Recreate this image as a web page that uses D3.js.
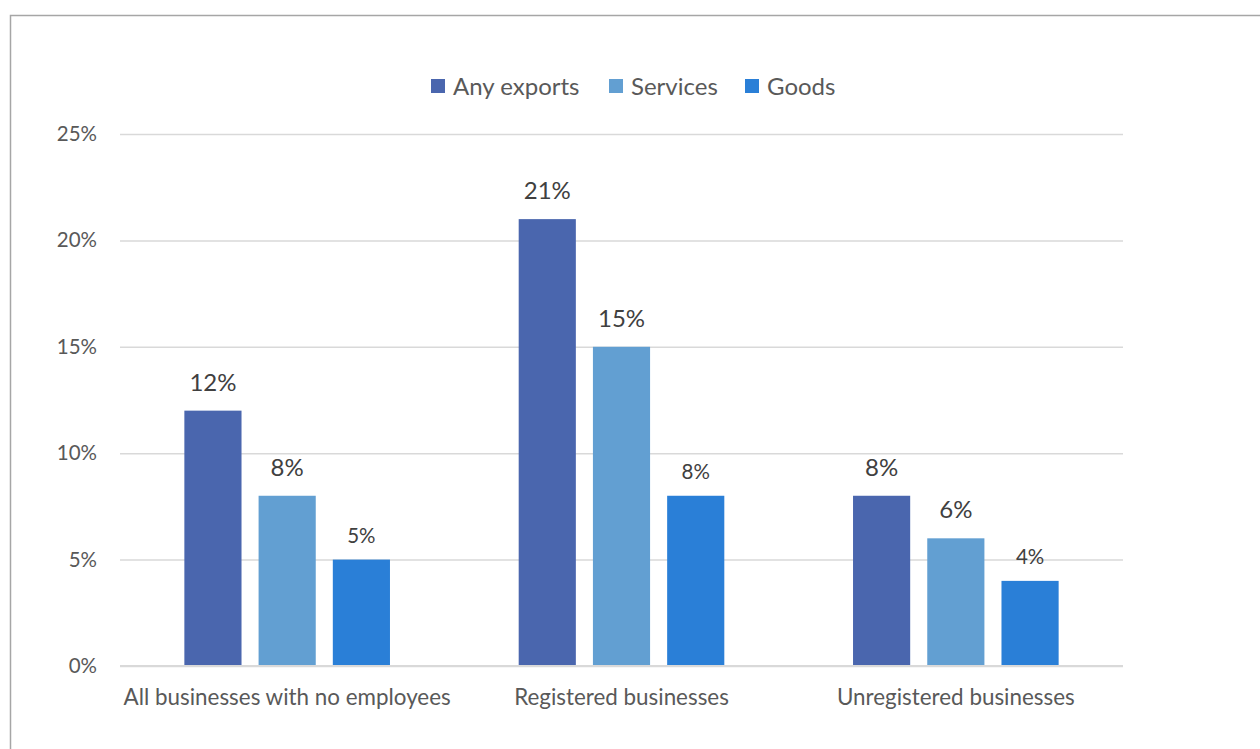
<!DOCTYPE html>
<html>
<head>
<meta charset="utf-8">
<script src="https://cdn.jsdelivr.net/npm/d3@7"></script>
<style>
  html, body { margin: 0; padding: 0; background: #fff; }
  svg { display: block; font-family: Lato, "Open Sans", sans-serif; }
</style>
</head>
<body>
<svg id="chart" width="1260" height="749"></svg>
<script>
// Share of businesses exporting, by business type
const categories = ["All businesses with no employees", "Registered businesses", "Unregistered businesses"];
const seriesNames = ["Any exports", "Services", "Goods"];
const anyExports = [12, 21, 8];
const services = [8, 15, 6];
const goods = [5, 8, 4];
const yTicks = [0, 5, 10, 15, 20, 25];

const seriesValues = [anyExports, services, goods];
const colors = ["#4A66AE", "#629FD2", "#2A7FD7"];
const labelSizes = [24, 24, 20.5];
const labelOffsets = [20, 20, 17];

const svg = d3.select("#chart");
const margin = { left: 120, right: 137, top: 134, bottom: 83 };
const W = 1260, H = 749;

// chart frame
svg.append("rect")
  .attr("x", 10.5).attr("y", 15.5)
  .attr("width", 1300).attr("height", 800)
  .attr("fill", "none").attr("stroke", "#A6A6A6").attr("stroke-width", 1.5);

const x0 = d3.scaleBand()
  .domain(categories)
  .range([margin.left, W - margin.right])
  .paddingInner(0).paddingOuter(0);

const groupWidth = x0.bandwidth() * 0.615;
const x1 = d3.scaleBand()
  .domain(seriesNames)
  .range([0, groupWidth])
  .paddingInner(0.23);

const y = d3.scaleLinear().domain([0, 25]).range([H - margin.bottom, margin.top]);

// gridlines
const yAxis = d3.axisLeft(y).tickValues(yTicks).tickFormat(d => d + "%")
  .tickSize(-(W - margin.left - margin.right)).tickPadding(23);
const gy = svg.append("g").attr("transform", `translate(${margin.left},0)`).call(yAxis);
gy.select(".domain").remove();
gy.selectAll(".tick line").attr("stroke", "#D9D9D9").attr("stroke-width", 1.5);
gy.selectAll(".tick text").attr("fill", "#595959").attr("font-size", 20.5).attr("font-family", "Lato, sans-serif");

// bars
const groups = svg.append("g").selectAll("g")
  .data(categories)
  .join("g")
  .attr("transform", c => `translate(${x0(c) + (x0.bandwidth() - groupWidth) / 2},0)`);

groups.selectAll("rect")
  .data((c, ci) => seriesNames.map((s, si) => ({ s, si, v: seriesValues[si][ci] })))
  .join("rect")
  .attr("x", d => x1(d.s))
  .attr("width", x1.bandwidth())
  .attr("y", d => y(d.v))
  .attr("height", d => y(0) - y(d.v))
  .attr("fill", d => colors[d.si]);

groups.selectAll("text.val")
  .data((c, ci) => seriesNames.map((s, si) => ({ s, si, v: seriesValues[si][ci] })))
  .join("text")
  .attr("class", "val")
  .attr("x", d => x1(d.s) + x1.bandwidth() / 2)
  .attr("y", d => y(d.v) - labelOffsets[d.si])
  .attr("text-anchor", "middle")
  .attr("fill", "#404040")
  .attr("font-size", d => labelSizes[d.si])
  .text(d => d.v + "%");

// baseline
svg.append("line")
  .attr("x1", margin.left).attr("x2", W - margin.right)
  .attr("y1", y(0)).attr("y2", y(0))
  .attr("stroke", "#D9D9D9").attr("stroke-width", 2);

// category labels
svg.append("g").selectAll("text")
  .data(categories)
  .join("text")
  .attr("x", c => x0(c) + x0.bandwidth() / 2)
  .attr("y", y(0) + 39)
  .attr("text-anchor", "middle")
  .attr("fill", "#595959")
  .attr("font-size", 22.4)
  .text(c => c);

// legend
const legendItems = [
  { name: seriesNames[0], x: 431 },
  { name: seriesNames[1], x: 609 },
  { name: seriesNames[2], x: 745 }
];
const lg = svg.append("g").selectAll("g")
  .data(legendItems)
  .join("g")
  .attr("transform", d => `translate(${d.x},79)`);
lg.append("rect").attr("width", 14).attr("height", 14)
  .attr("fill", (d, i) => colors[i]);
lg.append("text").attr("x", 22).attr("y", 16.4)
  .attr("fill", "#595959").attr("font-size", 24)
  .text(d => d.name);
</script>
</body>
</html>
